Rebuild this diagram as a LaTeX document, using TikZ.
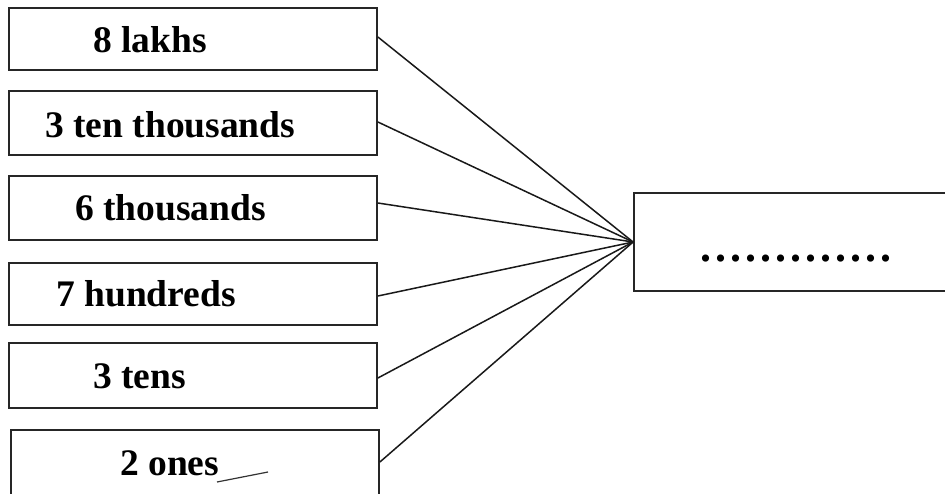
\documentclass[tikz,border=0pt]{standalone}
\usepackage{fontspec}
\setmainfont{Liberation Serif}
\newfontfamily\dotfont[LetterSpace=9.1]{Liberation Serif}
\begin{document}
\begin{tikzpicture}[x=1pt,y=-1pt,
  box/.style={draw=black!85,line width=1.8pt,rectangle,inner sep=0pt,fill=white},
  lbl/.style={anchor=base west,inner sep=0pt,font=\fontsize{37.5}{44}\selectfont\bfseries},
  link/.style={draw=black!90,line width=1.5pt}]
\useasboundingbox (0,0) rectangle (945,493);
\clip (0,0) rectangle (945,493);
% left boxes
\node[box,minimum width=368pt,minimum height=62pt] (b1) at (193,39) {};
\node[box,minimum width=368pt,minimum height=64pt] (b2) at (193,123) {};
\node[box,minimum width=368pt,minimum height=64pt] (b3) at (193,208) {};
\node[box,minimum width=368pt,minimum height=62pt] (b4) at (193,294) {};
\node[box,minimum width=368pt,minimum height=65pt] (b5) at (193,375.5) {};
\node[box,minimum width=368pt,minimum height=70pt] (b6) at (195,465) {};
% right box
\node[box,minimum width=400pt,minimum height=98pt] (r) at (834,242) {};
% labels
\node[lbl] (t1) at (93,52) {8 lakhs};
\node[lbl] (t2) at (45,137) {3 ten thousands};
\node[lbl] (t3) at (75,220) {6 thousands};
\node[lbl] (t4) at (56,306) {7 hundreds};
\node[lbl] (t5) at (93,388) {3 tens};
\node[lbl] (t6) at (120,475) {2 ones};
\node[anchor=base west,inner sep=0pt,font=\fontsize{44}{50}\selectfont\bfseries\dotfont] (dots) at (700,261) {.............};
% connectors
\coordinate (p) at (r.west);
\draw[link] ([yshift=2pt]b1.east) -- (p);
\draw[link] ([yshift=1pt]b2.east) -- (p);
\draw[link] ([yshift=5pt]b3.east) -- (p);
\draw[link] ([yshift=-2pt]b4.east) -- (p);
\draw[link] ([yshift=-2.5pt]b5.east) -- (p);
\draw[link] ([yshift=3pt]b6.east) -- (p);
% small line fragment inside last box
\draw[black!80,line width=1.2pt] (217,482) -- (268,472);
\end{tikzpicture}
\end{document}
